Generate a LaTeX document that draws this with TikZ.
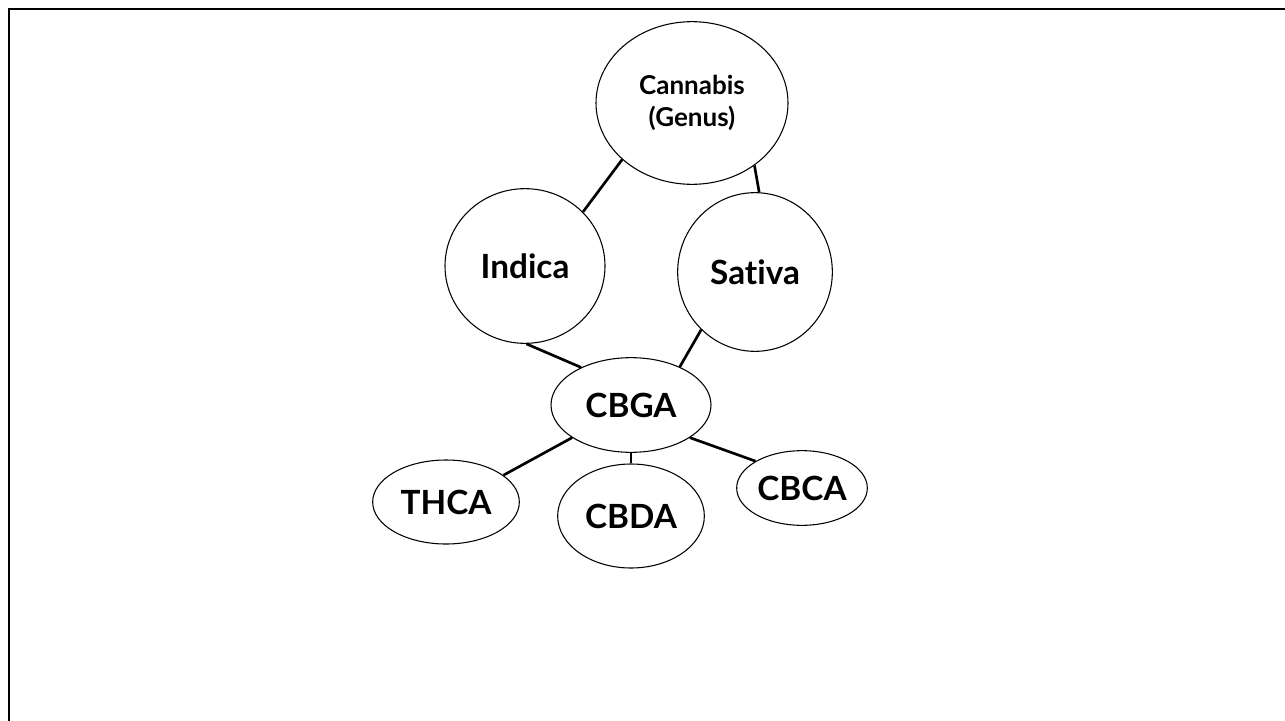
\documentclass[tikz,border=0pt]{standalone}
\usepackage{fontspec}
\setmainfont[Ligatures=NoCommon]{Lato}
\usetikzlibrary{shapes.geometric}
\tikzset{
  bubble/.style={draw=black, line width=0.8pt, ellipse, inner sep=0pt,
                 font=\bfseries\fontsize{25}{29}\selectfont},
  link/.style={draw=black, line width=2pt},
  frameline/.style={draw=black, line width=2.2pt}
}
\begin{document}
\begin{tikzpicture}[x=0.75pt, y=-0.75pt]
  \useasboundingbox (0,0) rectangle (1285,721);
  \fill[white] (0,0) rectangle (1285,721);
  % outer frame (top and left edges)
  \draw[frameline] (1285,9) -- (9,9) -- (9,721);

  % taxonomy and acid nodes
  \node[bubble, minimum width=144pt, minimum height=122pt, align=center,
        font=\bfseries\fontsize{19.5}{23.5}\selectfont]
        (cannabis) at (692,103) {Cannabis\\(Genus)};
  \node[bubble, minimum width=120pt, minimum height=116pt] (indica) at (525,266) {Indica};
  \node[bubble, minimum width=116pt, minimum height=119pt] (sativa) at (755,272) {\raisebox{-4pt}{Sativa}};
  \node[bubble, minimum width=120pt, minimum height=71pt]  (cbga)   at (631,405) {CBGA};
  \node[bubble, minimum width=110pt, minimum height=63pt]  (thca)   at (446,502) {\raisebox{-7pt}{THCA}};
  \node[bubble, minimum width=110pt, minimum height=78pt]  (cbda)   at (631,516) {CBDA};
  \node[bubble, minimum width=98pt,  minimum height=56pt]  (cbca)   at (802,488) {CBCA};

  % connectors
  \draw[link] (cannabis.219.6) -- (indica.43.5);
  \draw[link] (cannabis.-45.5) -- (sativa.87);
  \draw[link] (indica.-89) -- (cbga.143);
  \draw[link] (sativa.227.6) -- (cbga.38.8);
  \draw[link] (cbga.209) -- (thca.25.7);
  \draw[link] (cbga.270) -- (cbda.90);
  \draw[link] (cbga.-29.3) -- (cbca.150.5);
\end{tikzpicture}
\end{document}
